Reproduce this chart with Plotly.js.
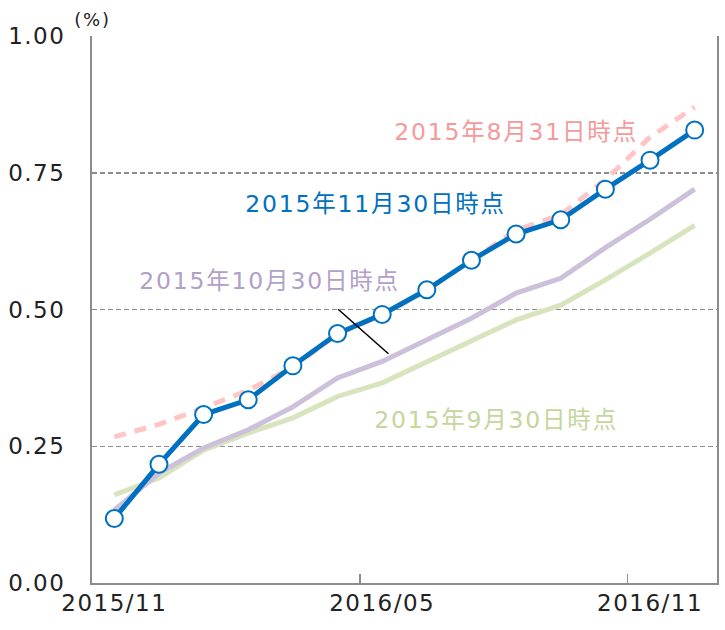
<!DOCTYPE html>
<html>
<head>
<meta charset="utf-8">
<script src="https://cdn.plot.ly/plotly-3.0.1.min.js"></script>
<style>
body{margin:0;padding:0;background:#fff;}
#chart{width:725px;height:630px;}
#chart .annotation-text{letter-spacing:1.8px;}
#chart .xtick text, #chart .ytick text{letter-spacing:1.5px;}
</style>
</head>
<body>
<div id="chart"></div>
<script>
// categories: monthly, 2015/11 .. 2016/12
const months = ["2015/11","2015/12","2016/01","2016/02","2016/03","2016/04","2016/05","2016/06","2016/07","2016/08","2016/09","2016/10","2016/11","2016/12"];
const tickLabels = ["2015/11","2016/05","2016/11"];
const tickIdx = [0, 6, 12];
const boundaryTicks = [5.5, 11.5];

const asOf0831 = [0.267, 0.290, 0.320, 0.352, 0.395, 0.455, 0.490, 0.535, 0.590, 0.645, 0.673, 0.737, 0.815, 0.870];
const asOf0930 = [0.161, 0.192, 0.243, 0.274, 0.302, 0.341, 0.366, 0.404, 0.444, 0.481, 0.508, 0.554, 0.603, 0.654];
const asOf1030 = [0.133, 0.201, 0.247, 0.280, 0.322, 0.375, 0.405, 0.444, 0.484, 0.530, 0.557, 0.613, 0.665, 0.720];
const asOf1130 = [0.118, 0.217, 0.308, 0.335, 0.397, 0.456, 0.491, 0.536, 0.590, 0.638, 0.664, 0.720, 0.773, 0.828];

const labels = ["2015年8月31日時点","2015年9月30日時点","2015年10月30日時点","2015年11月30日時点"];

const idx = months.map((m,i)=>i);
const FONT = "DejaVu Sans, Noto Sans CJK JP, sans-serif";

const traces = [
  {x: idx, y: asOf0831, type:'scatter', mode:'lines', line:{color:'#ffc5c5', width:5, dash:'12px,9px'}, hoverinfo:'skip'},
  {x: idx, y: asOf0930, type:'scatter', mode:'lines', line:{color:'#d7e4bd', width:5}, hoverinfo:'skip'},
  {x: idx, y: asOf1030, type:'scatter', mode:'lines', line:{color:'#ccc0da', width:5}, hoverinfo:'skip'},
  {x: idx, y: asOf1130, type:'scatter', mode:'lines+markers', line:{color:'#0070c0', width:5},
   marker:{size:17, color:'#ffffff', line:{color:'#0070c0', width:2}}, hoverinfo:'skip'},
  {x: boundaryTicks, y: [0,0], xaxis:'x2', type:'scatter', mode:'markers', marker:{opacity:0}, hoverinfo:'skip'}
];

const layout = {
  width:725, height:630,
  margin:{l:92, r:8, t:36, b:47},
  paper_bgcolor:'#fff', plot_bgcolor:'#fff',
  showlegend:false,
  font:{family:FONT, color:'#222', size:23},
  xaxis:{
    range:[-0.5, 13.5], tickvals:tickIdx, ticktext:tickLabels, ticks:'',
    showgrid:false, zeroline:false, showline:true, linecolor:'#8c8c8c', linewidth:2,
    tickfont:{family:FONT, size:23, color:'#222'}, ticklabelstandoff:-2, fixedrange:true
  },
  xaxis2:{
    overlaying:'x', range:[-0.5, 13.5], tickvals:boundaryTicks, ticks:'inside', ticklen:9, tickwidth:1.5, tickcolor:'#8c8c8c',
    showticklabels:false, showgrid:false, zeroline:false, showline:false, side:'bottom', anchor:'y'
  },
  yaxis:{
    range:[0,1], tickvals:[0,0.25,0.5,0.75,1], ticktext:["0.00","0.25","0.50","0.75","1.00"],
    ticks:'', ticklabelstandoff:20,
    showgrid:true, gridcolor:'#8c8c8c', gridwidth:1.5, griddash:'5px,3px',
    zeroline:false, showline:true, mirror:true, linecolor:'#8c8c8c', linewidth:2,
    tickfont:{family:FONT, size:23, color:'#222'}, fixedrange:true
  },
  annotations:[
    {text:'(%)', xref:'paper', yref:'paper', x:0, y:1.031, xanchor:'center', yanchor:'middle', showarrow:false,
     font:{family:FONT, size:18, color:'#222'}},
    {text:labels[0], xref:'x', yref:'y', x:8.99, y:0.824, showarrow:false, font:{family:FONT, size:23.5, color:'#f59a9a'}},
    {text:labels[1], xref:'x', yref:'y', x:8.55, y:0.298, showarrow:false, font:{family:FONT, size:23.5, color:'#c3d69b'}},
    {text:labels[2], xref:'x', yref:'y', x:3.475, y:0.552, showarrow:false, font:{family:FONT, size:23.5, color:'#b1a0c7'}},
    {text:labels[3], xref:'x', yref:'y', x:5.85, y:0.693, showarrow:false, font:{family:FONT, size:23.5, color:'#0070c0'}},
    {text:'', xref:'x', yref:'y', axref:'x', ayref:'y', x:6.14, y:0.419, ax:4.98, ay:0.503,
     showarrow:true, arrowhead:0, arrowwidth:1.5, arrowcolor:'#000', standoff:0, startstandoff:0}
  ]
};

Plotly.newPlot('chart', traces, layout, {displayModeBar:false, staticPlot:true});
</script>
</body>
</html>
